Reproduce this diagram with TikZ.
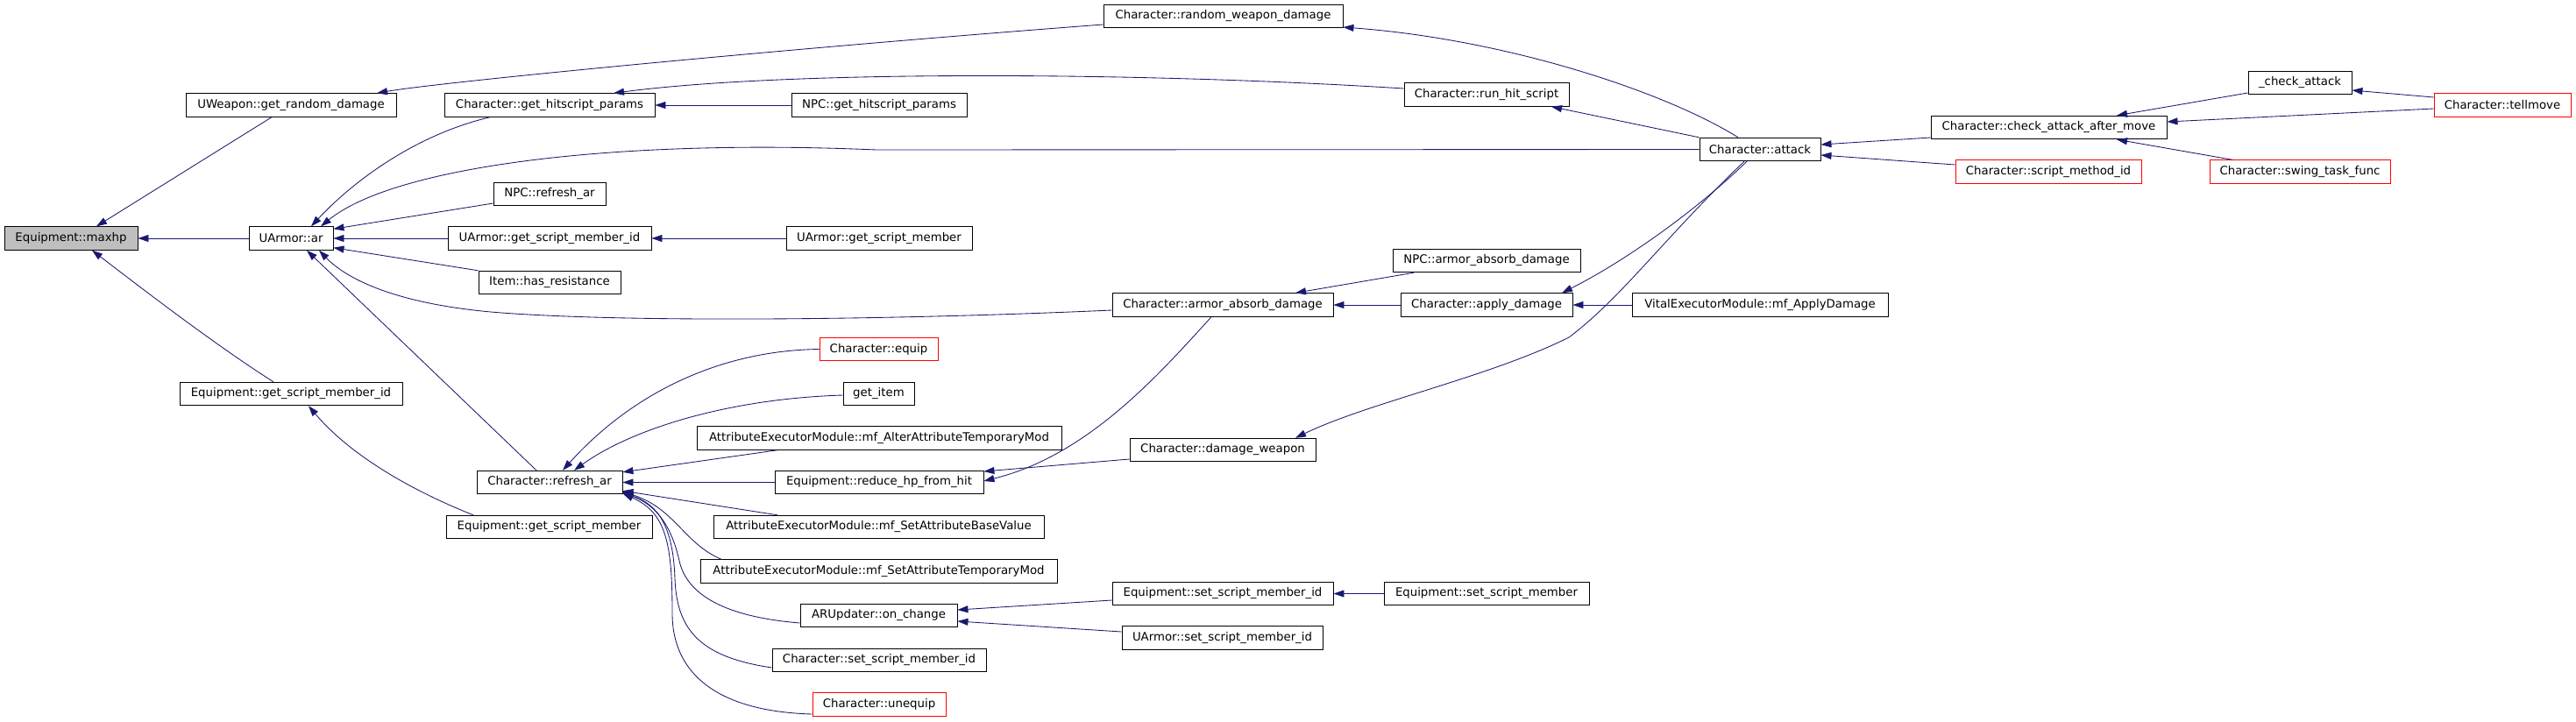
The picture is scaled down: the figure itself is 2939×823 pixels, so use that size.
\documentclass[tikz,border=0pt]{standalone}
\usepackage{fontspec}
\setmainfont{DejaVu Sans}
\usetikzlibrary{arrows.meta}
\definecolor{edgeblue}{RGB}{25,25,112}
\definecolor{hdrgray}{RGB}{191,191,191}
\tikzset{
  fn/.style={draw=black, line width=0.9pt, minimum height=26.5pt, inner sep=0pt,
    font=\fontsize{13.3}{16}\selectfont, anchor=center},
  fnred/.style={fn, draw=red},
  fnroot/.style={fn, fill=hdrgray},
  call/.style={draw=edgeblue, line width=0.85pt,
    -{Triangle[length=12pt,width=8pt,fill=edgeblue]}},
}
\begin{document}
\begin{tikzpicture}[x=1pt,y=-1pt]
\useasboundingbox (0,0) rectangle (2939,823);
% nodes
\node[fnroot, minimum width=152pt] (maxhp) at (81,272) {Equipment::maxhp};
\node[fn, minimum width=240pt] (uwgrd) at (332,120) {UWeapon::get\_random\_damage};
\node[fn, minimum width=96pt] (uar) at (332,272) {UArmor::ar};
\node[fn, minimum width=254pt] (eqgsmi) at (332,449.5) {Equipment::get\_script\_member\_id};
\node[fn, minimum width=240pt] (chgh) at (627,120) {Character::get\_hitscript\_params};
\node[fn, minimum width=128pt] (npcrar) at (627,221.5) {NPC::refresh\_ar};
\node[fn, minimum width=232pt] (uagsmi) at (627,272) {UArmor::get\_script\_member\_id};
\node[fn, minimum width=162pt] (itemhr) at (627,322.5) {Item::has\_resistance};
\node[fn, minimum width=166pt] (chrar) at (627,550.5) {Character::refresh\_ar};
\node[fn, minimum width=235pt] (eqgsm) at (626.5,601.5) {Equipment::get\_script\_member};
\node[fn, minimum width=200pt] (npcgh) at (1003,120) {NPC::get\_hitscript\_params};
\node[fn, minimum width=212pt] (uagsm) at (1003,272) {UArmor::get\_script\_member};
\node[fnred, minimum width=135pt] (chequip) at (1002.5,398.5) {Character::equip};
\node[fn, minimum width=81pt] (getitem) at (1002.5,449.5) {get\_item};
\node[fn, minimum width=416pt] (aemalter) at (1003,500) {AttributeExecutorModule::mf\_AlterAttributeTemporaryMod};
\node[fn, minimum width=238pt] (eqrhp) at (1003,550.5) {Equipment::reduce\_hp\_from\_hit};
\node[fn, minimum width=377pt] (aembase) at (1002.5,601.5) {AttributeExecutorModule::mf\_SetAttributeBaseValue};
\node[fn, minimum width=407pt] (aemtemp) at (1002.5,652) {AttributeExecutorModule::mf\_SetAttributeTemporaryMod};
\node[fn, minimum width=179pt] (aronchange) at (1002.5,702.5) {ARUpdater::on\_change};
\node[fn, minimum width=244pt] (chssmi) at (1003,753.5) {Character::set\_script\_member\_id};
\node[fnred, minimum width=152pt] (chunequip) at (1003,804) {Character::unequip};
\node[fn, minimum width=273pt] (chrwd) at (1395.5,18.5) {Character::random\_weapon\_damage};
\node[fn, minimum width=252pt] (chcad) at (1395,348) {Character::armor\_absorb\_damage};
\node[fn, minimum width=212pt] (chdw) at (1395,513.5) {Character::damage\_weapon};
\node[fn, minimum width=252pt] (eqssmi) at (1395,677.5) {Equipment::set\_script\_member\_id};
\node[fn, minimum width=229pt] (uassmi) at (1394.5,728) {UArmor::set\_script\_member\_id};
\node[fn, minimum width=188pt] (chrhs) at (1696,108) {Character::run\_hit\_script};
\node[fn, minimum width=214pt] (npcaad) at (1696,297.5) {NPC::armor\_absorb\_damage};
\node[fn, minimum width=196pt] (chad) at (1696,348) {Character::apply\_damage};
\node[fn, minimum width=234pt] (eqssm) at (1696,677.5) {Equipment::set\_script\_member};
\node[fn, minimum width=292pt] (vemad) at (2008,348) {VitalExecutorModule::mf\_ApplyDamage};
\node[fn, minimum width=138pt] (chatt) at (2008,170.5) {Character::attack};
\node[fn, minimum width=269pt] (chcaam) at (2337.5,145.5) {Character::check\_attack\_after\_move};
\node[fnred, minimum width=212pt] (chsmi) at (2337,196) {Character::script\_method\_id};
\node[fn, minimum width=118pt] (chkatt) at (2624,94.5) {\_check\_attack};
\node[fnred, minimum width=156pt] (chtell) at (2855,120) {Character::tellmove};
\node[fnred, minimum width=206pt] (chswing) at (2624,196) {Character::swing\_task\_func};
% edges into Equipment::maxhp
\draw[call] ([xshift=-22]uwgrd.south) -- ([xshift=29]maxhp.north);
\draw[call] (uar.west) -- (maxhp.east);
\draw[call] ([xshift=-20]eqgsmi.north) .. controls (240,390) and (150,320) .. ([xshift=24]maxhp.south);
% into UWeapon::get_random_damage
\draw[call] ([yshift=-9.5]chrwd.west) .. controls (900,55) and (500,94) .. ([xshift=98]uwgrd.north);
\draw[call] ([xshift=-25]chatt.north) .. controls (1900,105) and (1720,45) .. ([yshift=-12.5]chrwd.east);
% into UArmor::ar
\draw[call] ([xshift=-68]chgh.south) .. controls (470,155) and (400,210) .. ([xshift=23]uar.north);
\draw[call] (chatt.west) -- (1000,171) .. controls (700,158) and (450,190) .. ([xshift=34]uar.north);
\draw[call] ([yshift=-10.5]npcrar.west) -- ([yshift=-3]uar.north east);
\draw[call] (uagsmi.west) -- (uar.east);
\draw[call] (itemhr.north west) -- ([yshift=3]uar.south east);
\draw[call] ([yshift=-6]chcad.west) .. controls (1000,366) and (700,368) .. (560,356) .. controls (450,346) and (395,318) .. ([xshift=32]uar.south);
\draw[call] ([xshift=-15]chrar.north) -- ([xshift=18]uar.south);
% into Character::get_hitscript_params
\draw[call] (npcgh.west) -- (chgh.east);
\draw[call] ([yshift=7]chrhs.west) .. controls (1300,82) and (900,80) .. ([xshift=73]chgh.north);
\draw[call] (chatt.north west) -- ([xshift=74]chrhs.south);
\draw[call] (uagsm.west) -- (uagsmi.east);
% armor absorb / apply damage
\draw[call] (chad.west) -- (chcad.east);
\draw[call] ([xshift=-83]npcaad.south) -- ([xshift=83]chcad.north);
\draw[call] ([xshift=-15]chatt.south) .. controls (1930,245) and (1850,300) .. ([xshift=86]chad.north);
\draw[call] (vemad.west) -- (chad.east);
\draw[call] ([xshift=-18]chatt.south) .. controls (1900,270) and (1850,340) .. (1790,385) .. controls (1700,430) and (1560,460) .. ([xshift=83]chdw.north);
% reduce_hp_from_hit
\draw[call] ([xshift=-13]chcad.south) .. controls (1320,430) and (1240,520) .. ([yshift=1.5]eqrhp.east);
\draw[call] ([yshift=-10.5]chdw.west) -- ([yshift=12.5]eqrhp.east);
% into Character::refresh_ar
\draw[call] (eqrhp.west) -- (chrar.east);
\draw[call] (chequip.west) .. controls (820,400) and (720,450) .. ([xshift=15]chrar.north);
\draw[call] ([yshift=-1.5]getitem.west) .. controls (830,455) and (720,490) .. ([xshift=28]chrar.north);
\draw[call] ([xshift=-116]aemalter.south) -- ([yshift=-2]chrar.north east);
\draw[call] ([xshift=-115.5]aembase.north) -- ([yshift=4]chrar.south east);
\draw[call] ([xshift=-179.5]aemtemp.north) .. controls (780,620) and (770,580) .. ([yshift=3]chrar.south east);
\draw[call] ([yshift=-8.5]aronchange.west) .. controls (840,705) and (785,685) .. (775,640) .. controls (765,595) and (745,575) .. ([yshift=2]chrar.south east);
\draw[call] ([yshift=-8.5]chssmi.west) .. controls (800,750) and (772,720) .. (770,660) .. controls (768,600) and (750,575) .. ([yshift=1.5]chrar.south east);
\draw[call] ([yshift=-11]chunequip.west) .. controls (820,812) and (767,770) .. (767,700) .. controls (767,620) and (760,585) .. ([yshift=1]chrar.south east);
% get_script_member
\draw[call] ([xshift=-86.5]eqgsm.north) .. controls (470,560) and (400,520) .. ([xshift=20]eqgsmi.south);
% on_change
\draw[call] ([yshift=-7.5]eqssmi.west) -- ([yshift=6.5]aronchange.east);
\draw[call] ([yshift=7]uassmi.west) -- ([yshift=-6.5]aronchange.east);
\draw[call] (eqssm.west) -- (eqssmi.east);
% right part
\draw[call] ([yshift=-11.5]chcaam.west) -- ([yshift=5.5]chatt.east);
\draw[call] ([yshift=8]chsmi.west) -- ([yshift=-6.5]chatt.east);
\draw[call] ([yshift=-11.5]chkatt.west) -- ([xshift=77.5]chcaam.north);
\draw[call] ([yshift=-4]chtell.west) -- ([yshift=6.5]chcaam.east);
\draw[call] ([xshift=-77]chswing.north) -- ([xshift=77.5]chcaam.south);
\draw[call] ([yshift=9]chtell.west) -- ([yshift=-8.5]chkatt.east);
\end{tikzpicture}
\end{document}
